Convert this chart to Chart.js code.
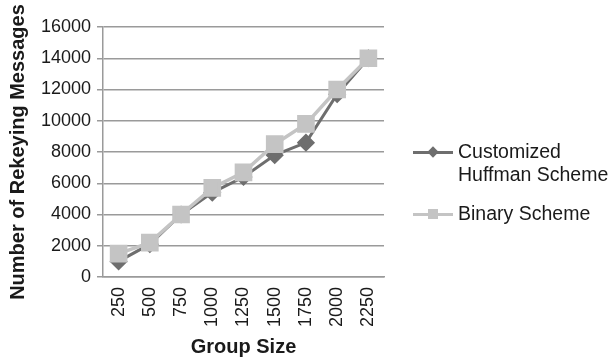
<!DOCTYPE html>
<html>
<head>
<meta charset="utf-8">
<script src="https://cdn.jsdelivr.net/npm/chart.js@4/dist/chart.umd.min.js"></script>
<style>
  body { margin: 0; background: #fff; }
  #wrap { position: relative; width: 611px; height: 363px; }
  #legend { position: absolute; left: 413px; top: 140px; font-family: "Liberation Sans", Arial, sans-serif; font-size: 19.5px; color: #1a1a1a; line-height: 23px; }
  .item { position: relative; padding-left: 45px; margin-bottom: 16px; }
  .swatch { position: absolute; left: 0; top: 11px; width: 40px; height: 3px; }
  .mark { position: absolute; }
</style>
</head>
<body>
<div id="wrap">
  <canvas id="rekeyChart" width="611" height="363"></canvas>
  <div id="legend">
    <div class="item">
      <div class="swatch" style="background:#6e6e6e"></div>
      <div class="mark" style="left:16px;top:8px;width:8px;height:8px;background:#6e6e6e;transform:rotate(45deg)"></div>
      Customized<br>Huffman Scheme
    </div>
    <div class="item">
      <div class="swatch" style="background:#c4c4c4"></div>
      <div class="mark" style="left:15px;top:7px;width:10px;height:10px;background:#c4c4c4"></div>
      Binary Scheme
    </div>
  </div>
</div>
<script>
// Group sizes and rekeying message counts per scheme
const groupSizes = ['250', '500', '750', '1000', '1250', '1500', '1750', '2000', '2250'];
const huffmanMessages = [1000, 2100, 4000, 5400, 6400, 7800, 8600, 11700, 14000];
const binaryMessages = [1500, 2200, 4000, 5700, 6700, 8500, 9800, 12000, 14000];
const yTicks = [0, 2000, 4000, 6000, 8000, 10000, 12000, 14000, 16000];

const font = { family: '"Liberation Sans", Arial, sans-serif', size: 18 };
const titleFont = { family: '"Liberation Sans", Arial, sans-serif', size: 20, weight: 'bold' };

const ctx = document.getElementById('rekeyChart').getContext('2d');
new Chart(ctx, {
  type: 'line',
  data: {
    labels: groupSizes,
    datasets: [{
      label: 'Customized Huffman Scheme',
      data: huffmanMessages,
      borderColor: '#6e6e6e',
      backgroundColor: '#6e6e6e',
      borderWidth: 3,
      pointStyle: 'rectRot',
      pointRadius: 7,
      order: 2
    }, {
      label: 'Binary Scheme',
      data: binaryMessages,
      borderColor: '#c4c4c4',
      backgroundColor: '#c4c4c4',
      borderWidth: 3.5,
      pointStyle: 'rect',
      pointRadius: 10,
      order: 1
    }]
  },
  options: {
    responsive: false,
    animation: false,
    layout: { padding: { top: 27, right: 227, bottom: 4, left: 4 } },
    plugins: { legend: { display: false }, tooltip: { enabled: false } },
    scales: {
      x: {
        offset: true,
        grid: { display: false, drawTicks: false },
        border: { color: '#9a9a9a', width: 1.5 },
        ticks: { color: '#1a1a1a', font: font, minRotation: 90, maxRotation: 90, padding: 10, autoSkip: false },
        title: { display: true, text: 'Group Size', color: '#1a1a1a', font: titleFont, padding: { top: 4, bottom: 0 } },
        afterFit: scale => { scale.height = 82; }
      },
      y: {
        min: 0,
        max: 16000,
        afterBuildTicks: scale => { scale.ticks = yTicks.map(v => ({ value: v })); },
        grid: { color: '#9a9a9a', lineWidth: 1.5, tickLength: 6 },
        border: { color: '#9a9a9a', width: 1.5 },
        ticks: { color: '#1a1a1a', font: font, padding: 6, callback: v => String(v) },
        title: { display: true, text: 'Number of Rekeying Messages', color: '#1a1a1a', font: titleFont, padding: { top: 2, bottom: 4 } },
        afterFit: scale => { scale.width = 99; }
      }
    }
  }
});
</script>
</body>
</html>
